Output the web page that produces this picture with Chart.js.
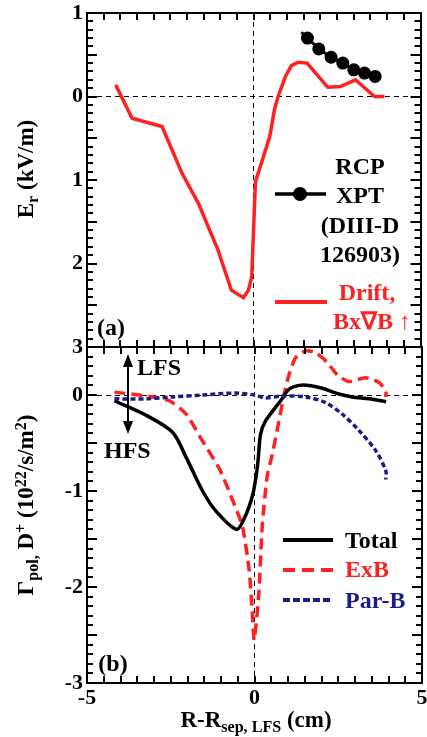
<!DOCTYPE html>
<html>
<head>
<meta charset="utf-8">
<script src="https://cdn.jsdelivr.net/npm/chart.js@4.4.0/dist/chart.umd.min.js"></script>
<style>
html, body { margin: 0; padding: 0; background: #fff; }
#wrap { position: relative; width: 427px; height: 737px; overflow: hidden; }
canvas { position: absolute; left: 0; top: 0; }
svg { position: absolute; left: 0; top: 0; }
.t { position: absolute; font-family: 'Liberation Serif', serif; font-weight: bold; font-size: 24px; line-height: 1; white-space: nowrap; transform: translate(-50%, -50%); }
.l { transform: translate(0, -50%); }
.rot { transform: translate(-50%, -50%) rotate(-90deg); font-size: 23px; }
.s { font-size: 0.7em; position: relative; top: 0.3em; }
.u { font-size: 0.7em; position: relative; top: -0.45em; }
</style>
</head>
<body>
<div id="wrap">
  <canvas id="topChart" width="427" height="737"></canvas>
  <canvas id="botChart" width="427" height="737"></canvas>
  <svg width="427" height="737">
    <line x1="275" y1="194" x2="326" y2="194" stroke="#000" stroke-width="3.5"/>
    <circle cx="300" cy="194" r="7" fill="#000"/>
    <line x1="275" y1="302" x2="327" y2="302" stroke="#ff2020" stroke-width="4"/>
    <line x1="283" y1="540" x2="333" y2="540" stroke="#000" stroke-width="4"/>
    <line x1="283" y1="570" x2="333" y2="570" stroke="#ff2020" stroke-width="4" stroke-dasharray="12,7"/>
    <line x1="283" y1="600" x2="333" y2="600" stroke="#1c1c85" stroke-width="4" stroke-dasharray="7,3"/>
    <line x1="128" y1="362" x2="128" y2="426" stroke="#000" stroke-width="2"/>
    <polygon points="128,354 123,367 133,367" fill="#000"/>
    <polygon points="128,434 123,421 133,421" fill="#000"/>
  </svg>

  <div class="t" style="left:360px;top:166px">RCP</div>
  <div class="t" style="left:360px;top:195px">XPT</div>
  <div class="t" style="left:360px;top:225px">(DIII-D</div>
  <div class="t" style="left:360px;top:254px">126903)</div>
  <div class="t" style="left:367px;top:292px;color:#ff2020">Drift,</div>
  <div class="t" style="left:372px;top:321px;color:#ff2020">Bx∇B ↑</div>

  <div class="t l" style="left:345px;top:540px">Total</div>
  <div class="t l" style="left:345px;top:569px;color:#ff2020">ExB</div>
  <div class="t l" style="left:345px;top:600px;color:#1c1c85">Par-B</div>

  <div class="t" style="left:111px;top:327px">(a)</div>
  <div class="t" style="left:113px;top:663px">(b)</div>
  <div class="t l" style="left:137px;top:367px">LFS</div>
  <div class="t l" style="left:104px;top:450px">HFS</div>

  <div class="t rot" style="left:25px;top:169px">E<span class="s">r</span> (kV/m)</div>
  <div class="t rot" style="left:25px;top:505px">Γ<span class="s">pol,</span> D<span class="u">+</span> (10<span class="u">22</span>/s/m<span class="u">2</span>)</div>
  <div class="t" style="left:256px;top:719px;font-size:23px">R-R<span class="s">sep, LFS</span> (cm)</div>
</div>

<script>
// (a) radial electric field
const driftX = [-4.14, -3.65, -2.75, -2.15, -1.66, -1.08, -0.67, -0.31, -0.16, -0.06, 0.05, 0.18, 0.48, 0.63, 0.73, 0.95, 1.13, 1.33, 1.6, 2.22, 2.6, 3.05, 3.62, 3.92];
const driftY = [0.14, -0.26, -0.36, -0.92, -1.28, -1.83, -2.32, -2.41, -2.32, -2.16, -1.02, -0.86, -0.48, -0.14, 0.0, 0.24, 0.37, 0.41, 0.40, 0.11, 0.12, 0.20, 0.0, 0.0];
const rcpX = [1.43, 1.61, 1.95, 2.32, 2.67, 3.0, 3.32, 3.64];
const rcpY = [0.77, 0.70, 0.57, 0.47, 0.40, 0.32, 0.28, 0.24];

// (b) poloidal particle flux
const totalX = [-4.18, -3.19, -2.44, -2.04, -1.55, -1.15, -0.54, -0.31, -0.06, 0.05, 0.11, 0.18, 0.33, 0.78, 1.03, 1.33, 1.63, 2.02, 2.52, 2.92, 3.42, 3.93];
const totalY = [-0.06, -0.22, -0.39, -0.65, -1.0, -1.21, -1.40, -1.29, -1.05, -0.84, -0.67, -0.41, -0.27, -0.06, 0.06, 0.10, 0.10, 0.07, 0.01, -0.02, -0.04, -0.07];
const exbX = [-4.18, -3.24, -2.54, -2.04, -1.55, -1.03, -0.66, -0.36, -0.16, -0.07, -0.01, 0.13, 0.23, 0.38, 0.53, 0.73, 0.88, 1.03, 1.23, 1.53, 1.83, 2.17, 2.47, 2.82, 3.32, 3.72, 3.92, 3.92];
const exbY = [0.03, -0.01, -0.06, -0.20, -0.48, -0.78, -1.09, -1.37, -1.82, -2.24, -2.55, -2.06, -1.37, -0.84, -0.62, -0.27, 0.0, 0.21, 0.39, 0.46, 0.44, 0.34, 0.21, 0.14, 0.18, 0.13, 0.04, -0.02];
const parX = [-4.18, -3.24, -2.44, -1.55, -0.56, 0.0, 0.33, 0.83, 1.53, 2.12, 2.62, 3.12, 3.62, 3.92, 3.92];
const parY = [-0.04, -0.04, -0.02, 0.0, 0.02, 0.0, -0.03, -0.01, -0.02, -0.08, -0.20, -0.37, -0.58, -0.79, -0.88];

const RED = '#ff2020';
const NAVY = '#1c1c85';
const FONT = "'Liberation Serif', serif";

const pts = (xs, ys) => xs.map((x, i) => ({x: x, y: ys[i]}));
const isInt = v => Math.abs(v - Math.round(v)) < 1e-6;

// tick marks pointing into the plot, on all four sides
const inTicks = {
  id: 'inTicks',
  afterDraw(chart) {
    const ctx = chart.ctx;
    const a = chart.chartArea;
    ctx.save();
    ctx.setLineDash([]);
    ctx.strokeStyle = '#000';
    ctx.lineWidth = 2;
    Object.keys(chart.scales).forEach(id => {
      const s = chart.scales[id];
      const pos = s.options.position;
      s.ticks.forEach(t => {
        const p = Math.round(s.getPixelForValue(t.value));
        const half = Math.abs(t.value * 2 - Math.round(t.value * 2)) < 1e-6;
        const len = s.isHorizontal() ? 7 : (half ? 10 : 6);
        ctx.beginPath();
        if (pos === 'bottom') { ctx.moveTo(p, a.bottom); ctx.lineTo(p, a.bottom - len); }
        else if (pos === 'top') { ctx.moveTo(p, a.top); ctx.lineTo(p, a.top + len); }
        else if (pos === 'left') { ctx.moveTo(a.left, p); ctx.lineTo(a.left + len, p); }
        else { ctx.moveTo(a.right, p); ctx.lineTo(a.right - len, p); }
        ctx.stroke();
      });
    });
    ctx.restore();
  }
};

function scaleCfg(position, min, max, step, size, pad, label, zero) {
  const horiz = position === 'top' || position === 'bottom';
  return {
    type: 'linear',
    axis: horiz ? 'x' : 'y',
    position: position,
    min: min,
    max: max,
    afterFit: s => {
      if (horiz) s.height = size; else s.width = size;
      s.paddingLeft = s.paddingRight = s.paddingTop = s.paddingBottom = 0;
    },
    ticks: {
      stepSize: step,
      autoSkip: false,
      maxRotation: 0,
      minRotation: 0,
      display: !!label,
      padding: pad,
      color: '#000',
      font: {family: FONT, size: 22, weight: 'bold'},
      callback: label || (() => '')
    },
    grid: {
      drawOnChartArea: zero,
      drawTicks: false,
      lineWidth: 1,
      color: c => (c.tick && Math.abs(c.tick.value) < 1e-9) ? '#000' : 'rgba(0,0,0,0)'
    },
    border: {display: true, color: '#000', width: 2, dash: [5, 4]}
  };
}

const common = {
  responsive: false,
  animation: false,
  devicePixelRatio: 1,
  plugins: {legend: {display: false}, tooltip: {enabled: false}}
};

new Chart(document.getElementById('topChart'), {
  type: 'scatter',
  plugins: [inTicks],
  data: {
    datasets: [
      {data: pts(driftX, driftY), showLine: true, borderColor: RED, borderWidth: 3.5, pointRadius: 0, tension: 0},
      {data: pts(rcpX, rcpY), showLine: true, borderColor: '#000', borderWidth: 3, tension: 0,
       pointRadius: c => c.dataIndex === 0 ? 0 : 6.5, pointBackgroundColor: '#000', pointBorderWidth: 0}
    ]
  },
  options: Object.assign({}, common, {
    layout: {padding: {top: 13, right: 5, bottom: 390, left: 0}},
    scales: {
      x: scaleCfg('bottom', -5, 5, 0.5, 0, 0, null, true),
      x2: scaleCfg('top', -5, 5, 0.5, 0, 0, null, false),
      y: scaleCfg('left', -3, 1, 0.1, 87, 4, v => isInt(v) ? String(Math.abs(Math.round(v))) : '', true),
      y2: scaleCfg('right', -3, 1, 0.1, 0, 0, null, false)
    }
  })
});

new Chart(document.getElementById('botChart'), {
  type: 'scatter',
  plugins: [inTicks],
  data: {
    datasets: [
      {data: pts(parX, parY), showLine: true, borderColor: NAVY, borderWidth: 3.5, borderDash: [5, 3], pointRadius: 0, tension: 0.3},
      {data: pts(totalX, totalY), showLine: true, borderColor: '#000', borderWidth: 3.5, pointRadius: 0, tension: 0.3},
      {data: pts(exbX, exbY), showLine: true, borderColor: RED, borderWidth: 3.5, borderDash: [11, 6], pointRadius: 0, tension: 0.2}
    ]
  },
  options: Object.assign({}, common, {
    layout: {padding: {top: 347, right: 5, bottom: 0, left: 0}},
    scales: {
      x: scaleCfg('bottom', -5, 5, 0.5, 54, 2, v => Math.abs(v % 5) < 1e-9 ? String(v) : '', true),
      x2: scaleCfg('top', -5, 5, 0.5, 0, 0, null, false),
      y: scaleCfg('left', -3, 0.5, 0.1, 87, 4, v => (isInt(v) && v <= 0) ? String(Math.round(v) || 0) : '', true),
      y2: scaleCfg('right', -3, 0.5, 0.1, 0, 0, null, false)
    }
  })
});
</script>
</body>
</html>
